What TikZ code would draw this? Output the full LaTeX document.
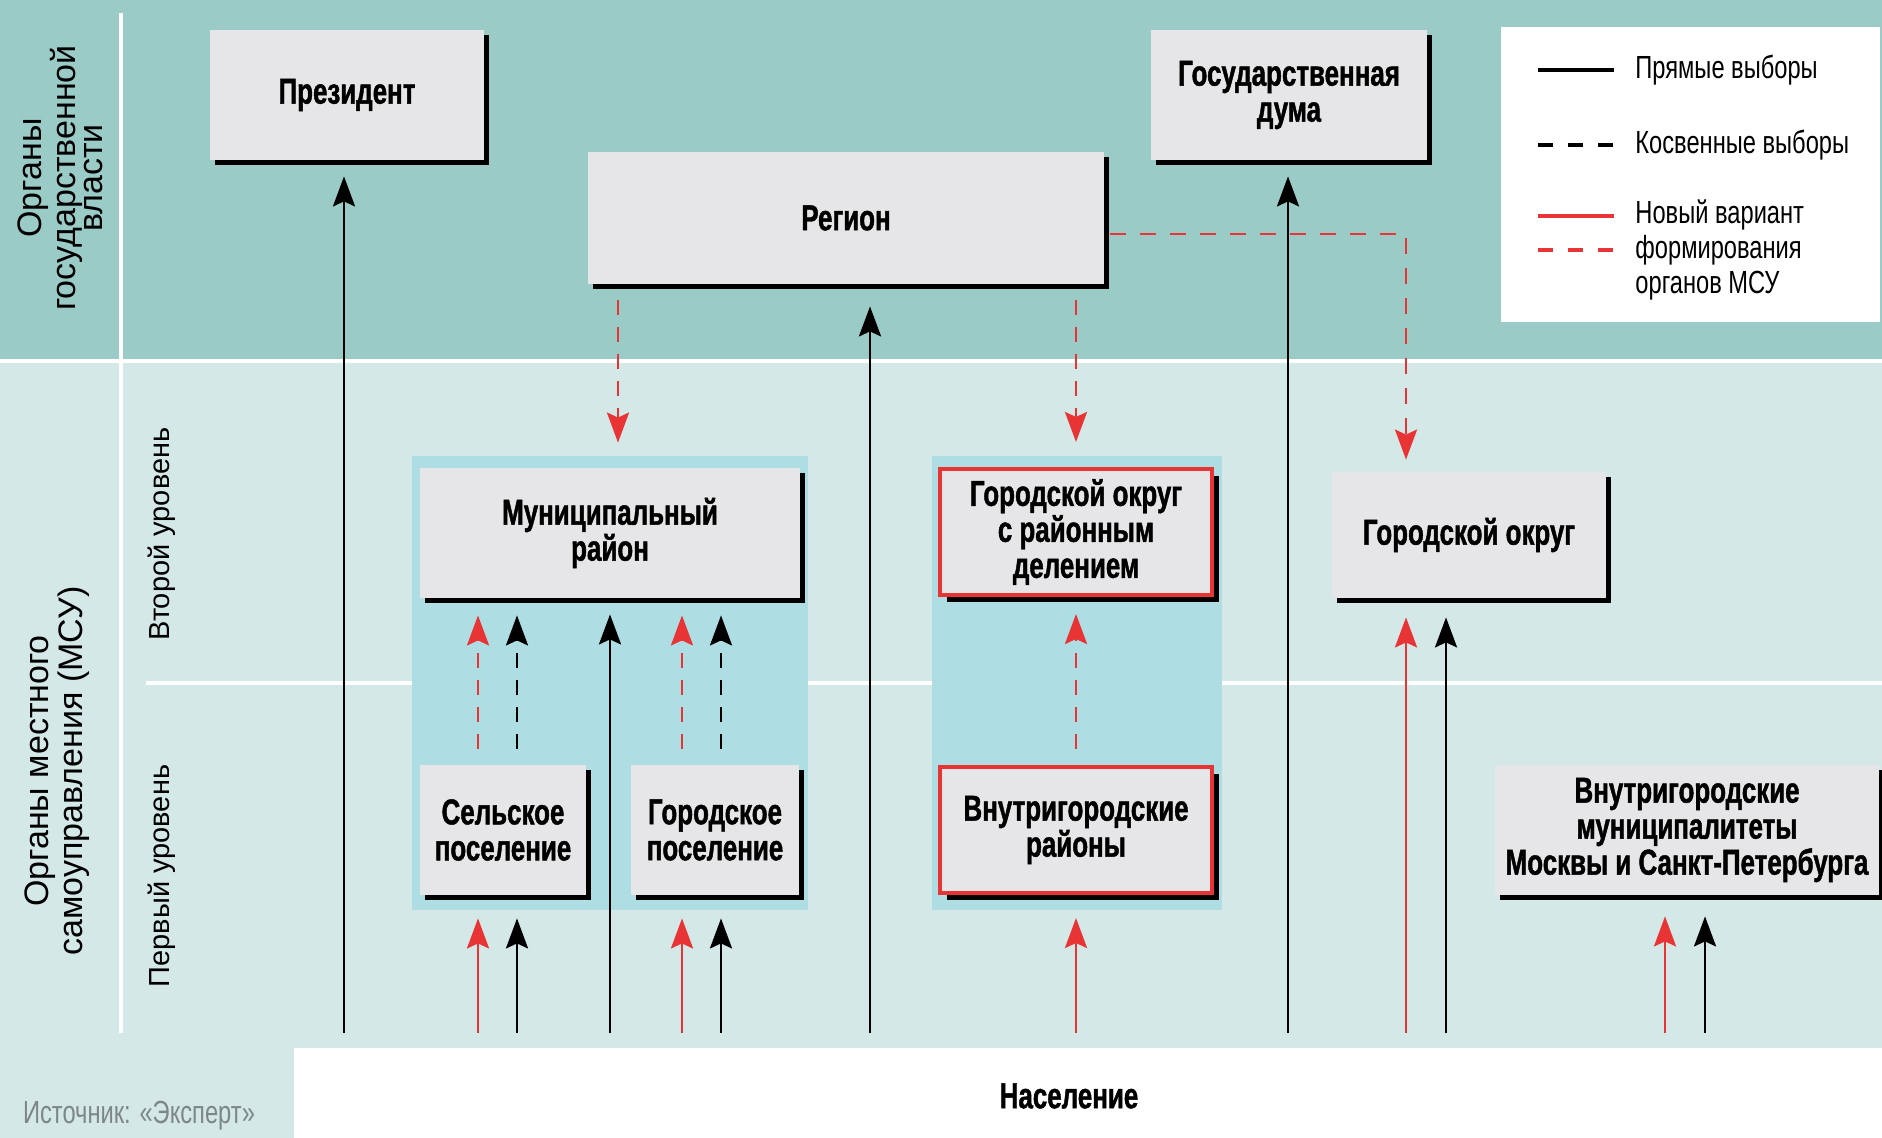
\documentclass[tikz,border=0pt]{standalone}
\usepackage{fontspec}
\setmainfont{Liberation Sans}
\newfontfamily\condfont{Liberation Sans}[FakeStretch=0.74]
\newfontfamily\condbf{Liberation Sans}[FakeStretch=0.72,BoldFeatures={FakeBold=1.2}]
\usetikzlibrary{arrows.meta,shadows}
\definecolor{govteal}{RGB}{155,203,199}
\definecolor{mswlight}{RGB}{212,232,231}
\definecolor{blockblue}{RGB}{174,222,228}
\definecolor{boxgray}{RGB}{230,230,232}
\definecolor{newred}{RGB}{232,52,52}
\definecolor{srcgray}{RGB}{125,135,135}

\begin{document}
\begin{tikzpicture}[x=0.5pt,y=0.5pt,yscale=-1,
    organtext/.style={fill=boxgray,align=center,inner sep=0pt,
      font=\condbf\bfseries\fontsize{18}{18}\selectfont},
    organ/.style={organtext,
      drop shadow={shadow xshift=2.5pt,shadow yshift=-2.5pt,fill=black,opacity=1}},
    neworgan/.style={organtext,draw=newred,line width=2pt,
      drop shadow={shadow xshift=3.5pt,shadow yshift=-3.5pt,fill=black,opacity=1}},
    sidelabel/.style={rotate=90,align=center,inner sep=0pt,
      font=\fontsize{17}{13.5}\selectfont},
    levellabel/.style={rotate=90,inner sep=0pt,font=\fontsize{14.5}{16}\selectfont},
    legtext/.style={anchor=west,align=left,inner sep=0pt,
      font=\condfont\fontsize{16}{17.5}\selectfont},
    legline/.style={line width=2pt},
    direct/.style={line width=1.4pt,-{Stealth[length=15pt,width=11pt,inset=2.5pt]}},
    indirect/.style={direct,dash pattern=on 7.5pt off 6pt},
    newdirect/.style={direct,newred},
    newindirect/.style={indirect,newred}]
  \useasboundingbox (0,0) rectangle (1882,1138);
  \fill[mswlight] (0,0) rectangle (1882,1138);
  \fill[govteal] (0,0) rectangle (1882,360);
  \draw[white,line width=2pt] (0,361) -- (1882,361);
  \draw[white,line width=2pt] (121,13) -- (121,1033);
  \draw[white,line width=2pt] (146,683) -- (1882,683);
  \fill[white] (294,1048) rectangle (1882,1138);
  \fill[blockblue] (412,456) rectangle (808,910);
  \fill[blockblue] (932,456) rectangle (1222,910);
  \fill[white] (1501,27) rectangle (1880,322);

  \node[sidelabel] (gov) at (60,178) {Органы\\государственной\\власти};
  \node[sidelabel] (msu) at (57,771) {Органы местного\\самоуправления (МСУ)};
  \node[levellabel] (lvl2) at (162,534) {Второй уровень};
  \node[levellabel] (lvl1) at (162,876) {Первый уровень};

  \node[organ,minimum width=137pt,minimum height=65pt] (prez) at (347,95) {Президент};
  \node[organ,minimum width=258pt,minimum height=66pt] (region) at (846,218) {Регион};
  \node[organ,minimum width=138pt,minimum height=65pt] (duma) at (1289,95) {Государственная\\дума};
  \node[organ,minimum width=190pt,minimum height=65pt] (munrayon) at (610,533) {Муниципальный\\район};
  \node[organ,minimum width=83pt,minimum height=65pt] (selskoe) at (503,830) {Сельское\\поселение};
  \node[organ,minimum width=84pt,minimum height=65pt] (gorodskoe) at (715,830) {Городское\\поселение};
  \node[neworgan,minimum width=136pt,minimum height=63pt] (gorokrugrd) at (1076,532) {Городской округ\\с районным\\делением};
  \node[neworgan,minimum width=136pt,minimum height=63pt] (vnrayony) at (1076,830) {Внутригородские\\районы};
  \node[organ,minimum width=137pt,minimum height=63pt] (gorokrug) at (1469,535) {Городской округ};
  \node[organ,minimum width=192pt,minimum height=65pt] (moscow) at (1687,830) {Внутригородские\\муниципалитеты\\Москвы и Санкт-Петербурга};

  \node[font=\condbf\bfseries\fontsize{18}{18}\selectfont] (nas) at (1069,1096) {Население};
  \node[font=\condfont\fontsize{16}{17}\selectfont,text=srcgray,inner sep=0pt] (src) at (139,1116) {Источник: «Эксперт»};

  \draw[legline] (1538,70) -- (1614,70);
  \draw[legline,dash pattern=on 7.5pt off 7.5pt] (1538,145) -- (1614,145);
  \draw[legline,newred] (1538,216) -- (1614,216);
  \draw[legline,newred,dash pattern=on 7.5pt off 7.5pt] (1538,250) -- (1614,250);
  \node[legtext] (leg1) at (1635,70) {Прямые выборы};
  \node[legtext] (leg2) at (1635,145) {Косвенные выборы};
  \node[legtext] (leg3) at (1635,250) {Новый вариант\\формирования\\органов МСУ};

  \coordinate (b1) at (344,1033);
  \coordinate (b2) at (478,1033);
  \coordinate (b3) at (517,1033);
  \coordinate (b4) at (610,1033);
  \coordinate (b5) at (682,1033);
  \coordinate (b6) at (721,1033);
  \coordinate (b7) at (870,1033);
  \coordinate (b8) at (1076,1033);
  \coordinate (b9) at (1288,1033);
  \coordinate (b10) at (1406,1033);
  \coordinate (b11) at (1446,1033);
  \coordinate (b12) at (1665,1033);
  \coordinate (b13) at (1705,1033);
  \coordinate (d1) at (618,300);

  \draw[direct,shorten >=8pt] (b1) -- (b1 |- prez.south);
  \draw[direct,shorten >=11pt] (b7) -- (b7 |- region.south);
  \draw[direct,shorten >=8pt] (b9) -- (b9 |- duma.south);
  \draw[direct,shorten >=8pt] (b4) -- (b4 |- munrayon.south);
  \draw[newdirect,shorten >=11.5pt] (b2) -- (b2 |- selskoe.south);
  \draw[direct,shorten >=11.5pt] (b3) -- (b3 |- selskoe.south);
  \draw[newdirect,shorten >=11.5pt] (b5) -- (b5 |- gorodskoe.south);
  \draw[direct,shorten >=11.5pt] (b6) -- (b6 |- gorodskoe.south);
  \draw[newdirect,shorten >=11.5pt] (b8) -- (b8 |- vnrayony.south);
  \draw[newdirect,shorten >=9.5pt] (b10) -- (b10 |- gorokrug.south);
  \draw[direct,shorten >=9.5pt] (b11) -- (b11 |- gorokrug.south);
  \draw[newdirect,shorten >=10.5pt] (b12) -- (b12 |- moscow.south);
  \draw[direct,shorten >=10.5pt] (b13) -- (b13 |- moscow.south);

  \draw[newindirect,shorten <=8pt,shorten >=8.5pt] (b2 |- selskoe.north) -- (b2 |- munrayon.south);
  \draw[indirect,shorten <=8pt,shorten >=8.5pt] (b3 |- selskoe.north) -- (b3 |- munrayon.south);
  \draw[newindirect,shorten <=8pt,shorten >=8.5pt] (b5 |- gorodskoe.north) -- (b5 |- munrayon.south);
  \draw[indirect,shorten <=8pt,shorten >=8.5pt] (b6 |- gorodskoe.north) -- (b6 |- munrayon.south);
  \draw[newindirect,shorten <=8pt,shorten >=8.5pt] (b8 |- vnrayony.north) -- (b8 |- gorokrugrd.south);

  \draw[newindirect,shorten <=8pt,shorten >=12.5pt] (d1 |- region.south) -- (d1 |- munrayon.north);
  \draw[newindirect,shorten <=8pt,shorten >=12.5pt] (b8 |- region.south) -- (b8 |- gorokrugrd.north);
  \draw[newindirect,dash pattern=on 8pt off 7pt,shorten >=6pt] ([xshift=3pt,yshift=8pt]region.east) -| (b10 |- gorokrug.north);
\end{tikzpicture}
\end{document}
